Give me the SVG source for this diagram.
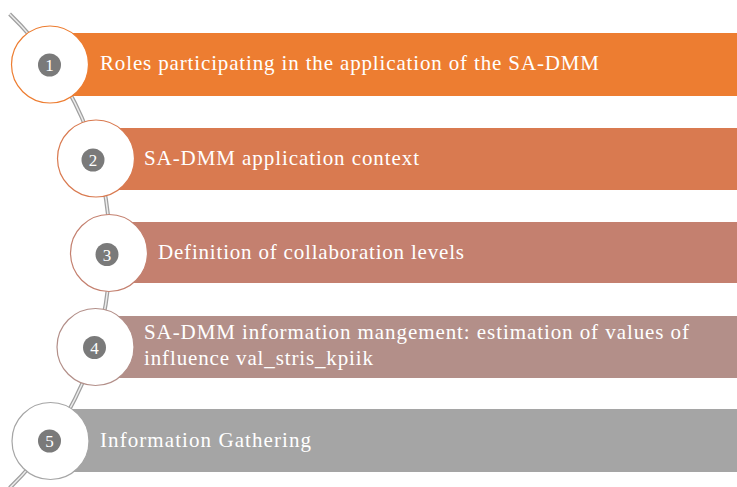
<svg xmlns="http://www.w3.org/2000/svg" width="737" height="487" viewBox="0 0 737 487">
<style>
.lbl{font-family:"Liberation Serif","DejaVu Serif",serif;font-size:21px;fill:#ffffff}
.num{font-family:"Liberation Serif","DejaVu Serif",serif;font-size:17px;fill:#ffffff;text-anchor:middle}
.ring{fill:#ffffff;stroke-width:1.2}
.badge{fill:#7a7a7a}
</style>
<rect width="737" height="487" fill="#ffffff"/>
<g id="connectors">
<path d="M 9.6 14 A 330 330 0 0 1 9.6 488" fill="none" stroke="#a0a0a0" stroke-width="4"/>
<path d="M 9.6 14 A 330 330 0 0 1 9.6 488" fill="none" stroke="#ececec" stroke-width="1.5"/>
</g>
<g id="node1">
<rect x="50" y="33" width="687" height="63" fill="#ed7d31"/>
<circle class="ring" cx="50" cy="64.5" r="38.5" stroke="#ed7d31"/>
<circle class="badge" cx="49.5" cy="65" r="11.5"/>
<text class="num" x="49.5" y="71">1</text>
<text class="lbl" x="100" y="69.5" textLength="499" lengthAdjust="spacing">Roles participating in the application of the SA-DMM</text>
</g>
<g id="node2">
<rect x="96" y="128" width="641" height="62" fill="#d97a50"/>
<circle class="ring" cx="96" cy="158.5" r="38.5" stroke="#d97a50"/>
<circle class="badge" cx="93" cy="160" r="11.5"/>
<text class="num" x="93" y="166">2</text>
<text class="lbl" x="144" y="164.5" textLength="275" lengthAdjust="spacing">SA-DMM application context</text>
</g>
<g id="node3">
<rect x="109" y="222" width="628" height="61" fill="#c4806f"/>
<circle class="ring" cx="109" cy="253" r="38.5" stroke="#c4806f"/>
<circle class="badge" cx="107" cy="254.5" r="11.5"/>
<text class="num" x="107" y="260.5">3</text>
<text class="lbl" x="158" y="258.5" textLength="306" lengthAdjust="spacing">Definition of collaboration levels</text>
</g>
<g id="node4">
<rect x="96" y="316" width="641" height="62" fill="#b38f89"/>
<circle class="ring" cx="95.5" cy="347" r="38.5" stroke="#b38f89"/>
<circle class="badge" cx="94.5" cy="347.5" r="11.5"/>
<text class="num" x="94.5" y="353.5">4</text>
<text class="lbl" x="144" y="338.5" textLength="545" lengthAdjust="spacing">SA-DMM information mangement: estimation of values of</text>
<text class="lbl" x="144" y="364.5" textLength="229" lengthAdjust="spacing">influence val_stris_kpiik</text>
</g>
<g id="node5">
<rect x="50" y="409" width="687" height="63" fill="#a5a5a5"/>
<circle class="ring" cx="50.5" cy="441" r="38.5" stroke="#a5a5a5"/>
<circle class="badge" cx="49.5" cy="441" r="11.5"/>
<text class="num" x="49.5" y="447">5</text>
<text class="lbl" x="100" y="446.5" textLength="211" lengthAdjust="spacing">Information Gathering</text>
</g>
</svg>
